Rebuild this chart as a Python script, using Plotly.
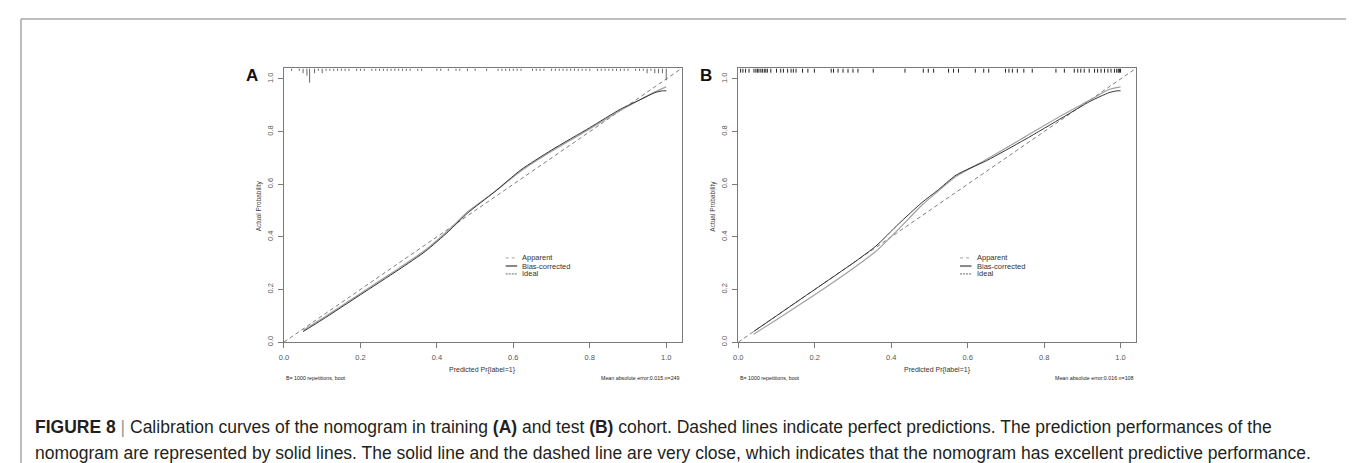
import plotly.graph_objects as go

W, H = 1354, 463

# ---------------- data ----------------
tick_vals = [0.0, 0.2, 0.4, 0.6, 0.8, 1.0]
tick_text = ["0.0", "0.2", "0.4", "0.6", "0.8", "1.0"]
ideal_xy = [0.0, 1.04]

# Panel A (training, n=249)
a_bias_x = [0.05, 0.10, 0.20, 0.30, 0.37, 0.43, 0.48, 0.55, 0.62, 0.70, 0.80, 0.88, 0.93, 0.97, 0.99, 1.00]
a_bias_y = [0.04, 0.085, 0.18, 0.275, 0.345, 0.42, 0.49, 0.57, 0.655, 0.73, 0.815, 0.885, 0.92, 0.948, 0.955, 0.955]
a_app_x = [0.05, 0.10, 0.20, 0.30, 0.37, 0.43, 0.48, 0.55, 0.62, 0.70, 0.80, 0.88, 0.93, 0.97, 1.00]
a_app_y = [0.045, 0.09, 0.185, 0.28, 0.35, 0.425, 0.495, 0.57, 0.65, 0.725, 0.81, 0.88, 0.92, 0.95, 0.97]

a_rug_x = [0.02, 0.04, 0.05, 0.06, 0.067, 0.08, 0.09, 0.10, 0.11, 0.12, 0.13, 0.14, 0.15, 0.16,
           0.17, 0.19, 0.20, 0.21, 0.23, 0.24, 0.25, 0.26, 0.27, 0.28, 0.29, 0.30, 0.31, 0.32,
           0.33, 0.35, 0.36, 0.40, 0.41, 0.43, 0.45, 0.46, 0.48, 0.50, 0.53, 0.56, 0.57, 0.58,
           0.59, 0.60, 0.61, 0.62, 0.65, 0.66, 0.67, 0.68, 0.70, 0.71, 0.72, 0.73, 0.74, 0.75,
           0.76, 0.77, 0.78, 0.79, 0.80, 0.82, 0.83, 0.84, 0.85, 0.86, 0.87, 0.88, 0.89, 0.90,
           0.92, 0.93, 0.94, 0.95, 0.96, 0.97, 0.98, 0.99, 1.00]
a_rug_freq = [1, 1, 2, 3, 6, 2, 1, 2, 1, 1, 1, 1, 1, 1,
              1, 1, 1, 1, 1, 1, 1, 1, 1, 1, 1, 1, 1, 1,
              1, 1, 1, 1, 1, 1, 1, 1, 1, 1, 1, 1, 1, 1,
              1, 1, 1, 1, 1, 1, 1, 1, 1, 1, 1, 1, 1, 1,
              1, 1, 1, 1, 1, 1, 1, 1, 1, 1, 1, 1, 1, 1,
              1, 1, 1, 2, 1, 2, 2, 2, 5]

# Panel B (test, n=108)
b_bias_x = [0.04, 0.10, 0.20, 0.30, 0.36, 0.42, 0.48, 0.52, 0.57, 0.65, 0.75, 0.85, 0.92, 0.97, 0.99, 1.00]
b_bias_y = [0.04, 0.10, 0.20, 0.30, 0.365, 0.45, 0.53, 0.575, 0.635, 0.69, 0.77, 0.855, 0.915, 0.948, 0.955, 0.955]
b_app_x = [0.04, 0.10, 0.20, 0.30, 0.36, 0.42, 0.48, 0.52, 0.57, 0.65, 0.75, 0.85, 0.92, 0.97, 1.00]
b_app_y = [0.03, 0.085, 0.18, 0.28, 0.345, 0.43, 0.52, 0.57, 0.63, 0.695, 0.78, 0.865, 0.92, 0.96, 0.97]

b_rug_x = [0.006, 0.012, 0.019, 0.028, 0.041, 0.046, 0.050, 0.054, 0.059, 0.063, 0.068, 0.072,
           0.076, 0.085, 0.100, 0.111, 0.118, 0.129, 0.138, 0.144, 0.151, 0.168, 0.182, 0.199,
           0.243, 0.249, 0.261, 0.274, 0.287, 0.300, 0.313, 0.353, 0.436, 0.484, 0.497, 0.511,
           0.550, 0.563, 0.576, 0.620, 0.642, 0.655, 0.699, 0.708, 0.717, 0.730, 0.747, 0.769,
           0.831, 0.853, 0.879, 0.888, 0.896, 0.905, 0.918, 0.932, 0.940, 0.949, 0.958, 0.967,
           0.975, 0.984, 0.990, 0.994, 0.997, 1.000]

legend_labels = ["Apparent", "Bias-corrected", "Ideal"]
x_title = "Predicted Pr{label=1}"
y_title = "Actual Probability"
a_foot_left, a_foot_right = "B= 1000 repetitions, boot", "Mean absolute error:0.015 n=249"
b_foot_left, b_foot_right = "B= 1000 repetitions, boot", "Mean absolute error:0.016 n=108"

caption1 = ("<b>FIGURE 8</b> <span style='color:#999'>|</span> Calibration curves of the nomogram in training <b>(A)</b> and test "
            "<b>(B)</b> cohort. Dashed lines indicate perfect predictions. The prediction performances of the")
caption2 = ("nomogram are represented by solid lines. The solid line and the dashed line are very close, "
            "which indicates that the nomogram has excellent predictive performance.")

# ---------------- layout helpers ----------------
def px(x):
    return x / W

def py(y):
    return 1 - y / H

AX_COL = "#7a7a7a"
TXT_COL = "#555555"
FONT = "Liberation Sans, Arial, sans-serif"

panels = [
    dict(x0=272, x1=671, xa="x", ya="y", label="A",
         bias=(a_bias_x, a_bias_y), app=(a_app_x, a_app_y),
         rug=(a_rug_x, a_rug_freq), rug_len=0.009, rug_col="#666666",
         foot=(a_foot_left, a_foot_right)),
    dict(x0=728, x1=1127, xa="x2", ya="y2", label="B",
         bias=(b_bias_x, b_bias_y), app=(b_app_x, b_app_y),
         rug=(b_rug_x, [1] * len(b_rug_x)), rug_len=0.016, rug_col="#222222",
         foot=(b_foot_left, b_foot_right)),
]
Y0, Y1 = 61, 337
RMAX = 1.04

fig = go.Figure()
shapes = []
annotations = []

for i, p in enumerate(panels):
    xa, ya = p["xa"], p["ya"]
    # ideal
    fig.add_trace(go.Scatter(x=ideal_xy, y=ideal_xy, mode="lines", xaxis=xa, yaxis=ya,
                             line=dict(color="#6f6f6f", width=0.9, dash="4px,3px"),
                             showlegend=False, hoverinfo="skip"))
    # apparent
    fig.add_trace(go.Scatter(x=p["app"][0], y=p["app"][1], mode="lines", xaxis=xa, yaxis=ya,
                             line=dict(color="#a0a0a0", width=1.2, shape="spline", smoothing=0.6),
                             showlegend=False, hoverinfo="skip"))
    # bias-corrected
    fig.add_trace(go.Scatter(x=p["bias"][0], y=p["bias"][1], mode="lines", xaxis=xa, yaxis=ya,
                             line=dict(color="#333333", width=1.0, shape="spline", smoothing=0.6),
                             showlegend=False, hoverinfo="skip"))
    # rug
    rx, ry = [], []
    for v, f in zip(p["rug"][0], p["rug"][1]):
        rx += [v, v, None]
        ry += [RMAX, RMAX - p["rug_len"] * f, None]
    fig.add_trace(go.Scatter(x=rx, y=ry, mode="lines", xaxis=xa, yaxis=ya,
                             line=dict(color=p["rug_col"], width=1),
                             showlegend=False, hoverinfo="skip"))

    # legend (drawn manually inside the panel)
    lx0, lx1, ltx = 0.58, 0.61, 0.618
    ly = [0.32, 0.289, 0.259]
    styles = [dict(color="#8a8a8a", width=0.8, dash="dot"),
              dict(color="#888888", width=2.0),
              dict(color="#444444", width=0.8, dash="2px,1px")]
    for lab, yy, st in zip(legend_labels, ly, styles):
        shapes.append(dict(type="line", xref=xa, yref=ya, x0=lx0, x1=lx1, y0=yy, y1=yy, line=st))
        annotations.append(dict(xref=xa, yref=ya, x=ltx, y=yy, text=lab, showarrow=False,
                                xanchor="left", yanchor="middle",
                                font=dict(family=FONT, size=7.5, color="#333333")))

    # axis titles and footers
    cx = (p["x0"] + p["x1"]) / 2
    annotations.append(dict(xref="paper", yref="paper", x=px(cx), y=py(365), text=x_title,
                            showarrow=False, xanchor="center", yanchor="middle",
                            font=dict(family=FONT, size=7, color="#333333")))
    annotations.append(dict(xref="paper", yref="paper", x=px(p["x0"] - 25), y=py(200), text=y_title,
                            showarrow=False, textangle=-90, xanchor="center", yanchor="middle",
                            font=dict(family=FONT, size=6.5, color="#444444")))
    annotations.append(dict(xref="paper", yref="paper", x=px(p["x0"]), y=py(373), text=p["foot"][0],
                            showarrow=False, xanchor="left", yanchor="middle",
                            font=dict(family=FONT, size=5.3, color="#1a1a1a")))
    annotations.append(dict(xref="paper", yref="paper", x=px(p["x1"]), y=py(373), text=p["foot"][1],
                            showarrow=False, xanchor="right", yanchor="middle",
                            font=dict(family=FONT, size=5.3, color="#1a1a1a")))
    annotations.append(dict(xref="paper", yref="paper", x=px(p["x0"] - 32), y=py(68), text="<b>%s</b>" % p["label"],
                            showarrow=False, xanchor="center", yanchor="middle",
                            font=dict(family=FONT, size=17, color="#111111")))

    axis_common = dict(range=[0, RMAX], showgrid=False, zeroline=False, showline=True, mirror=True,
                       linecolor=AX_COL, linewidth=1, ticks="outside", ticklen=5, tickwidth=1,
                       tickcolor=AX_COL, tickvals=tick_vals, ticktext=tick_text,
                       tickfont=dict(family=FONT, size=7.5, color=TXT_COL), fixedrange=True)
    xkey = "xaxis" if i == 0 else "xaxis2"
    ykey = "yaxis" if i == 0 else "yaxis2"
    fig.update_layout(**{
        xkey: dict(axis_common, domain=[px(p["x0"]), px(p["x1"])], anchor=ya, ticklabelstandoff=3),
        ykey: dict(axis_common, domain=[py(Y1), py(Y0)], anchor=xa, tickangle=-90,
                   ticklabelstandoff=2),
    })

# outer frame
for (x0, y0, x1, y1) in [(8, 11, 8, 470), (8, 11, 1349, 11), (1349, 11, 1349, 470)]:
    shapes.append(dict(type="line", xref="paper", yref="paper", x0=px(x0), y0=py(y0), x1=px(x1), y1=py(y1),
                       line=dict(color="#a8a8a8", width=1.5)))

# caption
CAP_FONT = dict(family="Liberation Sans, Arial, sans-serif", size=17.5, color="#231f20")
annotations.append(dict(xref="paper", yref="paper", x=px(20), y=py(423), text=caption1, showarrow=False,
                        xanchor="left", yanchor="middle", font=CAP_FONT))
annotations.append(dict(xref="paper", yref="paper", x=px(20), y=py(449), text=caption2, showarrow=False,
                        xanchor="left", yanchor="middle", font=CAP_FONT))

fig.update_layout(width=W, height=H, autosize=False, margin=dict(l=0, r=0, t=0, b=0),
                  paper_bgcolor="white", plot_bgcolor="white", showlegend=False,
                  shapes=shapes, annotations=annotations)

fig.write_html("out.html")
